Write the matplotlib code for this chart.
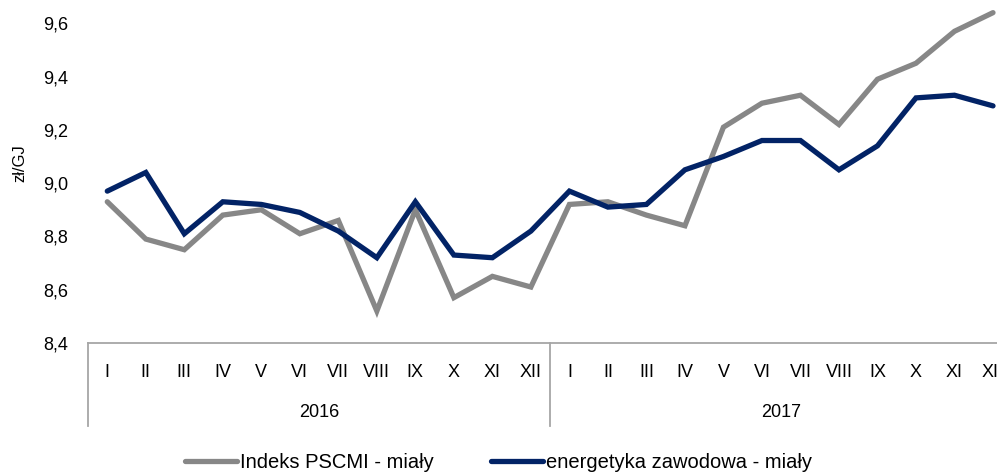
#!/usr/bin/env python3
# -*- coding: utf-8 -*-
'''
Ceny miałów: indeks PSCMI vs energetyka zawodowa, 2016-2017
'''
import numpy as np
import matplotlib
matplotlib.use('Agg')
import matplotlib.pyplot as plt
import matplotlib.transforms as mtransforms

months = ['I', 'II', 'III', 'IV', 'V', 'VI', 'VII', 'VIII', 'IX', 'X', 'XI', 'XII']
years = ['2016', '2017']

pscmi = [8.93, 8.79, 8.75, 8.88, 8.90, 8.81, 8.86, 8.52, 8.90, 8.57, 8.65, 8.61,
         8.92, 8.93, 8.88, 8.84, 9.21, 9.30, 9.33, 9.22, 9.39, 9.45, 9.57, 9.64]
energetyka = [8.97, 9.04, 8.81, 8.93, 8.92, 8.89, 8.82, 8.72, 8.93, 8.73, 8.72, 8.82,
              8.97, 8.91, 8.92, 9.05, 9.10, 9.16, 9.16, 9.05, 9.14, 9.32, 9.33, 9.29]

yticks = [8.4, 8.6, 8.8, 9.0, 9.2, 9.4, 9.6]

plt.rcParams['font.family'] = ['Liberation Sans', 'DejaVu Sans']
GRAY = '#878787'
NAVY = '#022366'
AXIS = '#a6a6a6'

fig = plt.figure(figsize=(9.97, 4.75), dpi=100)
# axes runs a bit past the right/top edge, as in the cropped original
ax = fig.add_axes([0.0883, 0.278, 0.927, 0.729])

x = np.arange(len(pscmi))
ax.plot(x, pscmi, color=GRAY, lw=3.8, solid_capstyle='round', solid_joinstyle='miter',
        label='Indeks PSCMI - miały')
ax.plot(x, energetyka, color=NAVY, lw=3.8, solid_capstyle='round', solid_joinstyle='miter',
        label='energetyka zawodowa - miały')

ax.set_xlim(-0.5, len(x) - 0.5)
ax.set_ylim(8.4, 9.7)
ax.set_yticks(yticks)
ax.set_yticklabels(['{:.1f}'.format(v).replace('.', ',') for v in yticks], fontsize=13)
ax.set_ylabel('zł/GJ', fontsize=12)
ax.yaxis.set_label_coords(-0.066, 0.52)

ax.set_xticks(x)
ax.set_xticklabels(months * len(years), fontsize=13)
ax.tick_params(axis='x', length=0, pad=15)
ax.tick_params(axis='y', length=0, pad=14)

for s in ['left', 'top', 'right']:
    ax.spines[s].set_visible(False)
ax.spines['bottom'].set_color(AXIS)
ax.spines['bottom'].set_linewidth(1.3)

# year level of the category axis
trans = mtransforms.blended_transform_factory(ax.transData, ax.transAxes)
for i, yr in enumerate(years):
    ax.text(i * 12 + 5.5, -0.2, yr, transform=trans, ha='center', va='center', fontsize=13)
for b in [-0.5, 11.5]:
    ax.plot([b, b], [0, -0.24], transform=trans, color=AXIS, lw=1.3, clip_on=False)

fig.legend(loc='center', bbox_to_anchor=(0.500, 0.027), ncol=2, frameon=False,
           fontsize=14.5, handlelength=2.6, handletextpad=0.15, columnspacing=2.8)

fig.savefig('out.png', dpi=100)
